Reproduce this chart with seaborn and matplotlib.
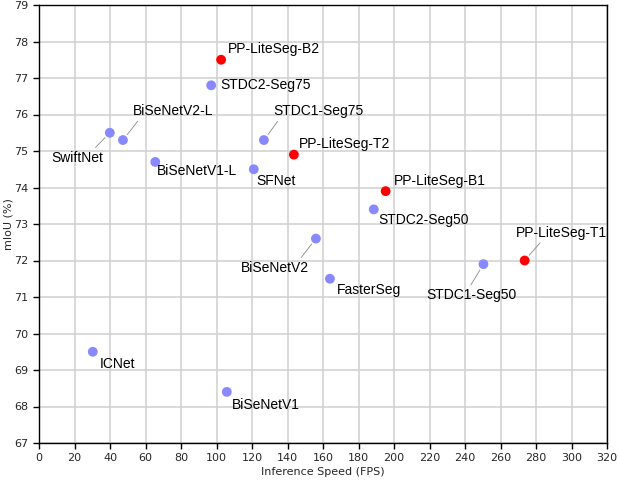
import pandas as pd
import matplotlib
matplotlib.use("Agg")
import matplotlib.pyplot as plt
import seaborn as sns

models = ["ICNet", "BiSeNetV1", "BiSeNetV1-L", "BiSeNetV2", "BiSeNetV2-L",
          "SwiftNet", "SFNet", "FasterSeg", "STDC1-Seg50", "STDC2-Seg50",
          "STDC1-Seg75", "STDC2-Seg75", "PP-LiteSeg-T1", "PP-LiteSeg-B1",
          "PP-LiteSeg-T2", "PP-LiteSeg-B2"]
fps = [30.3, 105.8, 65.5, 156.0, 47.3, 39.9, 121.0, 163.9, 250.4, 188.6,
       126.7, 97.0, 273.6, 195.3, 143.6, 102.6]
miou = [69.5, 68.4, 74.7, 72.6, 75.3, 75.5, 74.5, 71.5, 71.9, 73.4,
        75.3, 76.8, 72.0, 73.9, 74.9, 77.5]
group = ["other"] * 12 + ["ours"] * 4

# label offsets in pixels (dx, dy) and leader line anchor (relpos) or None
offsets = {
    "ICNet": (7, -12, None),
    "BiSeNetV1": (5, -13, None),
    "BiSeNetV1-L": (2, -9, None),
    "BiSeNetV2": (-75, -29, (0.85, 1.0)),
    "BiSeNetV2-L": (10, 29, (0.09, 0.0)),
    "SwiftNet": (-58, -25, (0.78, 1.0)),
    "SFNet": (3, -12, None),
    "FasterSeg": (7, -11, None),
    "STDC1-Seg50": (-57, -31, (0.47, 1.0)),
    "STDC2-Seg50": (5, -11, None),
    "STDC1-Seg75": (9, 29, (0.08, 0.0)),
    "STDC2-Seg75": (9, 0, None),
    "PP-LiteSeg-T1": (-9, 28, (0.3, 0.0)),
    "PP-LiteSeg-B1": (8, 10, None),
    "PP-LiteSeg-T2": (5, 11, None),
    "PP-LiteSeg-B2": (7, 11, None),
}

df = pd.DataFrame({"model": models, "fps": fps, "miou": miou, "group": group})

sns.set_style("ticks")
fig = plt.figure(figsize=(6.18, 4.8), dpi=100)
ax = fig.add_axes([39 / 618, 1 - 443 / 480, 568 / 618, 438 / 480])

sns.scatterplot(data=df, x="fps", y="miou", hue="group",
                palette={"other": "#8888ff", "ours": "#ff0000"},
                s=50, edgecolor="none", legend=False, ax=ax, zorder=3)

for m, x, y in zip(models, fps, miou):
    dx, dy, rel = offsets[m]
    kw = {}
    if rel is not None:
        kw["arrowprops"] = dict(arrowstyle="-", color="#888888", lw=0.6,
                                relpos=rel, shrinkA=0, shrinkB=5)
    ax.annotate(m, (x, y), xytext=(dx, dy), textcoords="offset pixels",
                ha="left", va="center", fontsize=10,
                family="Liberation Sans", color="black", **kw)

ax.set_xlim(0, 320)
ax.set_ylim(67, 79)
ax.set_xticks(range(0, 321, 20))
ax.set_yticks(range(67, 80))
ax.grid(True, color="#d0d0d0", lw=1.1)
ax.set_axisbelow(True)
ax.tick_params(labelsize=8, length=4, width=1, color="black")
for sp in ax.spines.values():
    sp.set_color("black")
    sp.set_linewidth(1)
ax.set_xlabel("Inference Speed (FPS)", fontsize=8, va="center")
ax.set_ylabel("mIoU (%)", fontsize=8, va="center")
ax.xaxis.set_label_coords(0.5, -29 / 438)
ax.yaxis.set_label_coords(-31 / 568, 0.5)

fig.savefig("out.png", dpi=100)
